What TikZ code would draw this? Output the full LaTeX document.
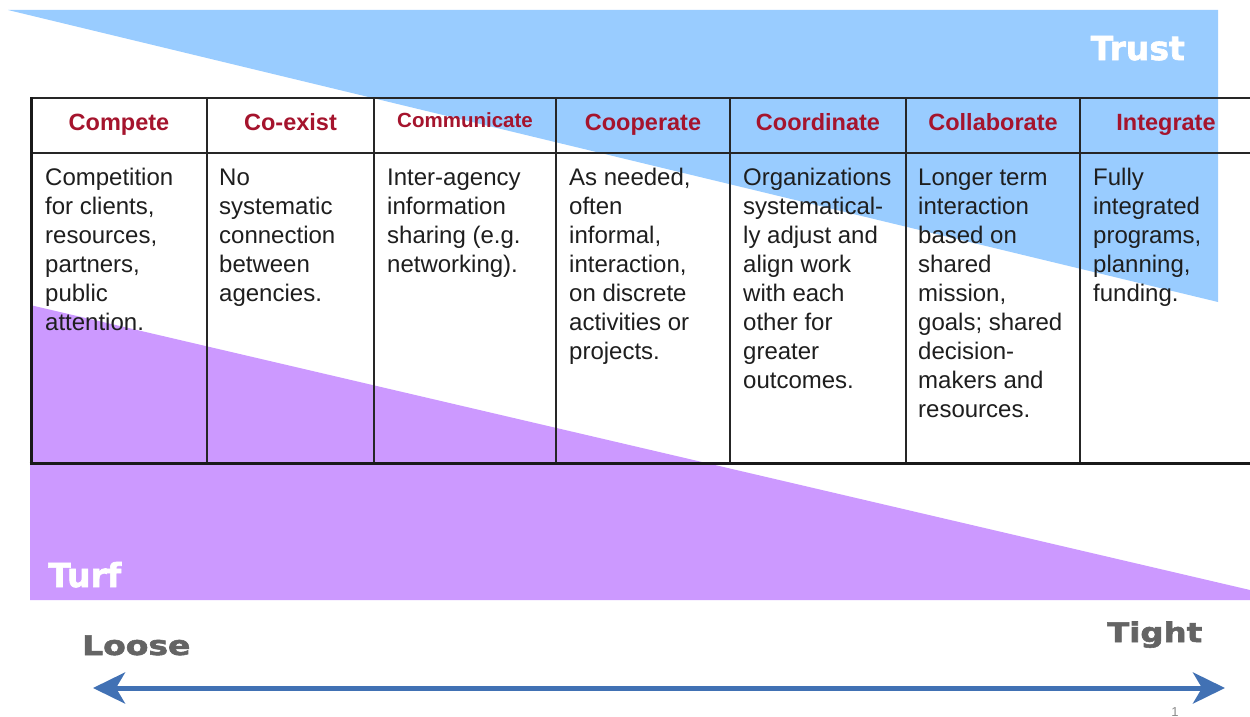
\documentclass[tikz,border=0pt]{standalone}
\usepackage{fontspec}
\setmainfont{Liberation Sans}
\newfontfamily\labelfont{DejaVu Sans}
\usetikzlibrary{arrows.meta}
\definecolor{trustblue}{RGB}{153,204,255}
\definecolor{turfpurple}{RGB}{204,153,255}
\definecolor{headred}{RGB}{165,20,45}
\definecolor{arrowblue}{RGB}{65,113,180}
\definecolor{labelgray}{RGB}{100,100,100}
\definecolor{bodyink}{RGB}{30,30,30}
\begin{document}
\begin{tikzpicture}[x=1pt,y=-1pt,
  gridline/.style={draw=black!85,line width=1.6pt},
  borderline/.style={draw=black!90,line width=3pt},
  headtext/.style={anchor=base,text=headred,inner sep=0pt,font=\bfseries\fontsize{23.5}{28}\selectfont},
  bodytext/.style={anchor=north west,align=left,inner sep=0pt,text=bodyink,font=\fontsize{24}{29}\selectfont},
  bigwhite/.style={anchor=base west,inner sep=0pt,text=white,font=\labelfont\bfseries\addfontfeature{FakeBold=2}\fontsize{33}{38}\selectfont},
  endlabel/.style={anchor=base west,inner sep=0pt,text=labelgray,font=\labelfont\bfseries\addfontfeature{FakeBold=2}\fontsize{27}{32}\selectfont},
  arrowline/.style={draw=arrowblue,line width=5pt,{Stealth[length=32pt,width=31pt,inset=9pt]}-{Stealth[length=32pt,width=31pt,inset=9pt]}}
]
\useasboundingbox (0,0) rectangle (1250,717);
\fill[white] (0,0) rectangle (1250,717);

% triangles
\fill[trustblue] (8,10) -- (1218,10) -- (1218,302) -- cycle;
\fill[turfpurple] (30,305) -- (1250,590) -- (1250,600) -- (30,600) -- cycle;

% table grid
\draw[gridline] (31,98) -- (1250,98);
\draw[gridline] (31,153) -- (1250,153);
\foreach \cx in {207,374,556,730,906,1080} {
  \draw[gridline] (\cx,98) -- (\cx,463);
}
\draw[borderline] (31,97) -- (31,463);
\draw[borderline] (29.5,463) -- (1250,463);

% headers
\node[headtext] (h1) at (119,130) {Compete};
\node[headtext] (h2) at (290.5,130) {Co-exist};
\node[headtext,font=\bfseries\fontsize{20.5}{24}\selectfont] (h3) at (465,127) {Communicate};
\node[headtext] (h4) at (643,130) {Cooperate};
\node[headtext] (h5) at (818,130) {Coordinate};
\node[headtext] (h6) at (993,130) {Collaborate};
\node[headtext] (h7) at (1166,130) {Integrate};

% body
\node[bodytext] (b1) at (45,166) {\rule{0pt}{19pt}Competition\\for clients,\\resources,\\partners,\\public\\attention.};
\node[bodytext] (b2) at (219,166) {\rule{0pt}{19pt}No\\systematic\\connection\\between\\agencies.};
\node[bodytext] (b3) at (387,166) {\rule{0pt}{19pt}Inter-agency\\information\\sharing (e.g.\\networking).};
\node[bodytext] (b4) at (569,166) {\rule{0pt}{19pt}As needed,\\often\\informal,\\interaction,\\on discrete\\activities or\\projects.};
\node[bodytext] (b5) at (743,166) {\rule{0pt}{19pt}Organizations\\systematical-\\ly adjust and\\align work\\with each\\other for\\greater\\outcomes.};
\node[bodytext] (b6) at (918,166) {\rule{0pt}{19pt}Longer term\\interaction\\based on\\shared\\mission,\\goals; shared\\decision-\\makers and\\resources.};
\node[bodytext] (b7) at (1093,166) {\rule{0pt}{19pt}Fully\\integrated\\programs,\\planning,\\funding.};

% big labels
\node[bigwhite] (trust) at (1090.5,60) {Trust};
\node[bigwhite] (turf) at (48,587) {Turf};
\node[endlabel] (loose) at (82,655) {\scalebox{1.22}[1]{Loose}};
\node[endlabel] (tight) at (1107,642) {\scalebox{1.2}[1]{Tight}};

% arrow
\coordinate (loosept) at (93,688);
\coordinate (tightpt) at (1225,688);
\draw[arrowline] (loosept) -- (tightpt);

% page number
\node[anchor=base,inner sep=0pt,text=black!45,font=\fontsize{13}{15}\selectfont] (pagenum) at (1175,716.5) {1};
\end{tikzpicture}
\end{document}
